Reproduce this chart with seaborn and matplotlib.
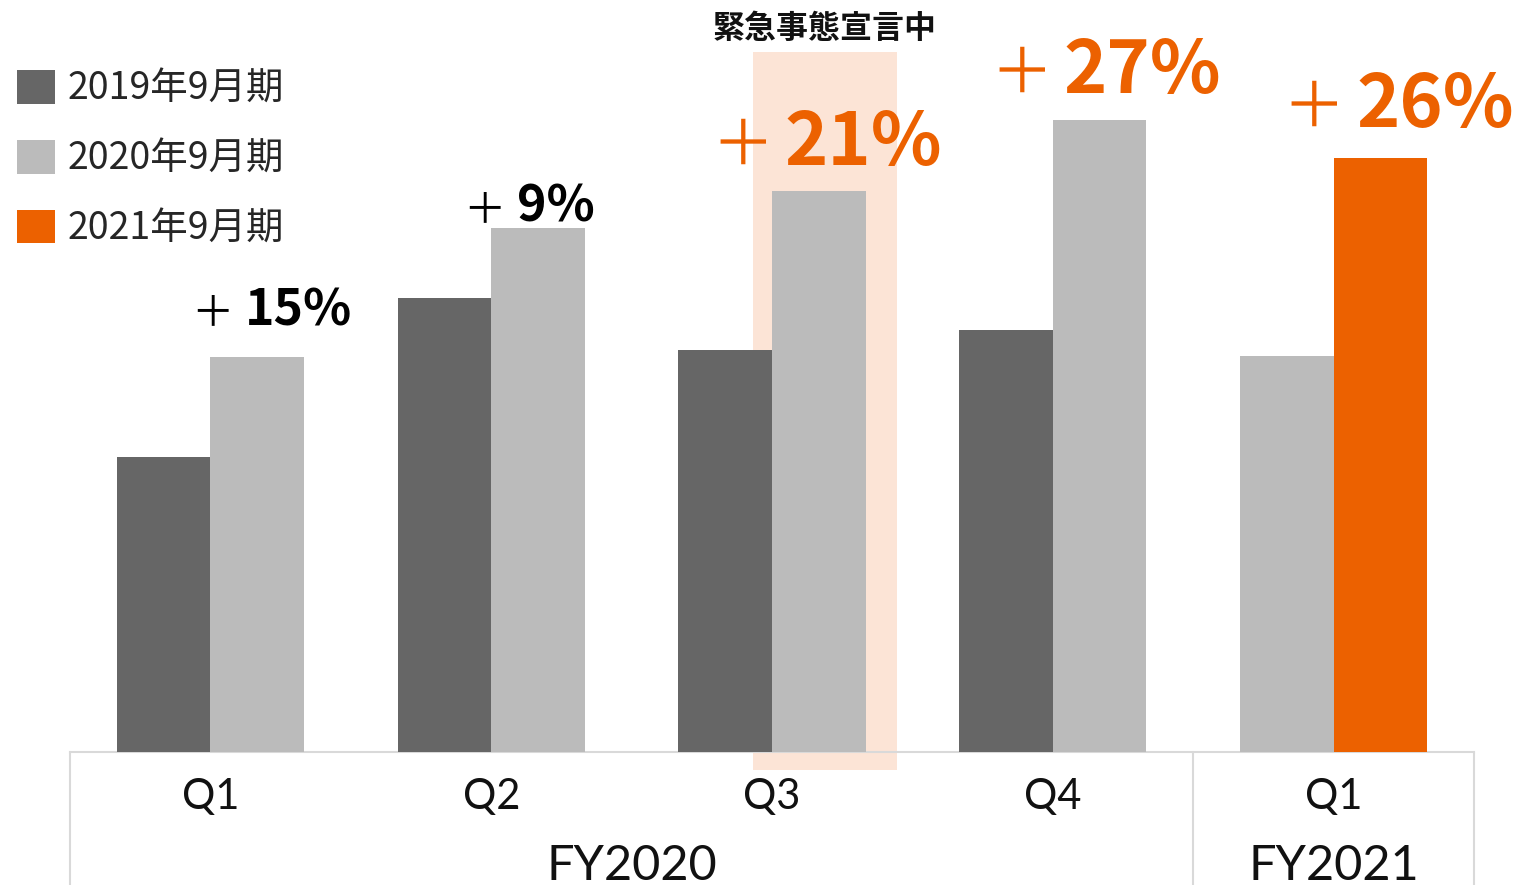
import pandas as pd
import matplotlib
matplotlib.use("Agg")
import matplotlib.pyplot as plt
import seaborn as sns
from matplotlib.patches import Patch, Rectangle

# values (bar heights, arbitrary units)
quarters = ["Q1", "Q2", "Q3", "Q4", "Q1"]
fiscal_years = ["FY2020", "FY2021"]
left_values = [295, 454, 402, 422, 396]    # 2019 (FY2020) / 2020 (FY2021)
right_values = [395, 524, 561, 632, 594]   # 2020 (FY2020) / 2021 (FY2021)
growth_labels = ["15%", "9%", "21%", "27%", "26%"]
series_names = ["2019年9月期", "2020年9月期", "2021年9月期"]
highlight_label = "緊急事態宣言中"

DARK = "#666666"
LIGHT = "#BBBBBB"
ORANGE = "#EC6100"
LINE = "#D9D9D9"
series_colors = [DARK, LIGHT, ORANGE]
left_colors = [DARK, DARK, DARK, DARK, LIGHT]
right_colors = [LIGHT, LIGHT, LIGHT, LIGHT, ORANGE]

# label styling per bar group
label_colors = ["black", "black", ORANGE, ORANGE, ORANGE]
label_sizes = [36, 36, 53, 53, 53]
label_dx = [-18, -27, -40, -42, -30]   # pixels from bar centre to split of "+" / number
label_dy = [32, 6, 26, 27, 31]         # pixels from bar top to baseline

sns.set_theme(style="white")
plt.rcParams["font.family"] = ["Noto Sans CJK JP", "DejaVu Sans"]

cats = [f"{fy} {q}" for fy, q in zip(["FY2020"] * 4 + ["FY2021"], quarters)]
df = pd.DataFrame({
    "cat": cats * 2,
    "slot": ["a"] * 5 + ["b"] * 5,
    "value": left_values + right_values,
})

fig = plt.figure(figsize=(15.15, 8.85), dpi=100)
ax = fig.add_axes([70 / 1515, 133 / 885, 1404 / 1515, 752 / 885])

sns.barplot(data=df, x="cat", y="value", hue="slot", order=cats,
            width=0.666, gap=0, palette=["#000000", "#000000"],
            legend=False, ax=ax, zorder=3, saturation=1)

for container, colors in zip(ax.containers, [left_colors, right_colors]):
    for bar, c in zip(container, colors):
        bar.set_facecolor(c)
        bar.set_edgecolor("none")

ax.set_xlim(-0.5, 4.5)
ax.set_ylim(0, 752)
ax.set_xticks([])
ax.set_yticks([])
ax.set_xlabel("")
ax.set_ylabel("")
for s in ["top", "left", "right"]:
    ax.spines[s].set_visible(False)
ax.spines["bottom"].set_color(LINE)
ax.spines["bottom"].set_linewidth(1.5)

# emergency period highlight behind Q3
q3_bar = ax.containers[1][2]
rx = q3_bar.get_x() - 0.068
ax.add_patch(Rectangle((rx, -18), 0.513, 718, facecolor="#FCE4D6",
                       edgecolor="none", zorder=1, clip_on=False))
ax.text(rx + 0.513 / 2, 723, highlight_label, ha="center", va="center",
        fontsize=23, fontweight="bold", color="#111111")

# growth labels above the right-hand bar of each group
for i, bar in enumerate(ax.containers[1]):
    cx = bar.get_x() + bar.get_width() / 2
    top = bar.get_height()
    ax.annotate("＋", xy=(cx, top), xytext=(label_dx[i] - 5, label_dy[i]),
                textcoords="offset pixels", ha="right", va="baseline",
                fontsize=label_sizes[i] * 0.85, color=label_colors[i])
    ax.annotate(growth_labels[i], xy=(cx, top), xytext=(label_dx[i] + 6, label_dy[i]),
                textcoords="offset pixels", ha="left", va="baseline",
                fontsize=label_sizes[i], fontweight="bold", color=label_colors[i])

# table-like axis below the bars
xt = ax.get_xaxis_transform()
for xb in [-0.5, 3.5, 4.5]:
    ax.plot([xb, xb], [0, -0.2], transform=xt, color=LINE, lw=1.5, clip_on=False)
for i, q in enumerate(quarters):
    ax.annotate(q, xy=(i, 0), xycoords=xt, xytext=(0, -45), textcoords="offset pixels",
                ha="center", va="center", fontsize=30, family="Lato",
                color="#111111")
for fy, xc in zip(fiscal_years, [1.5, 4.0]):
    ax.annotate(fy, xy=(xc, 0), xycoords=xt, xytext=(0, -114), textcoords="offset pixels",
                ha="center", va="center", fontsize=35, family="Lato",
                color="#111111")

handles = [Patch(facecolor=c, edgecolor="none") for c in series_colors]
fig.legend(handles, series_names, loc="upper left",
           bbox_to_anchor=(17 / 1515, 1 - 70 / 885), frameon=False,
           borderpad=0, borderaxespad=0, handlelength=1.0, handleheight=1.0,
           handletextpad=0.35, labelspacing=0.82, fontsize=27)

fig.savefig("out.png", dpi=100)
